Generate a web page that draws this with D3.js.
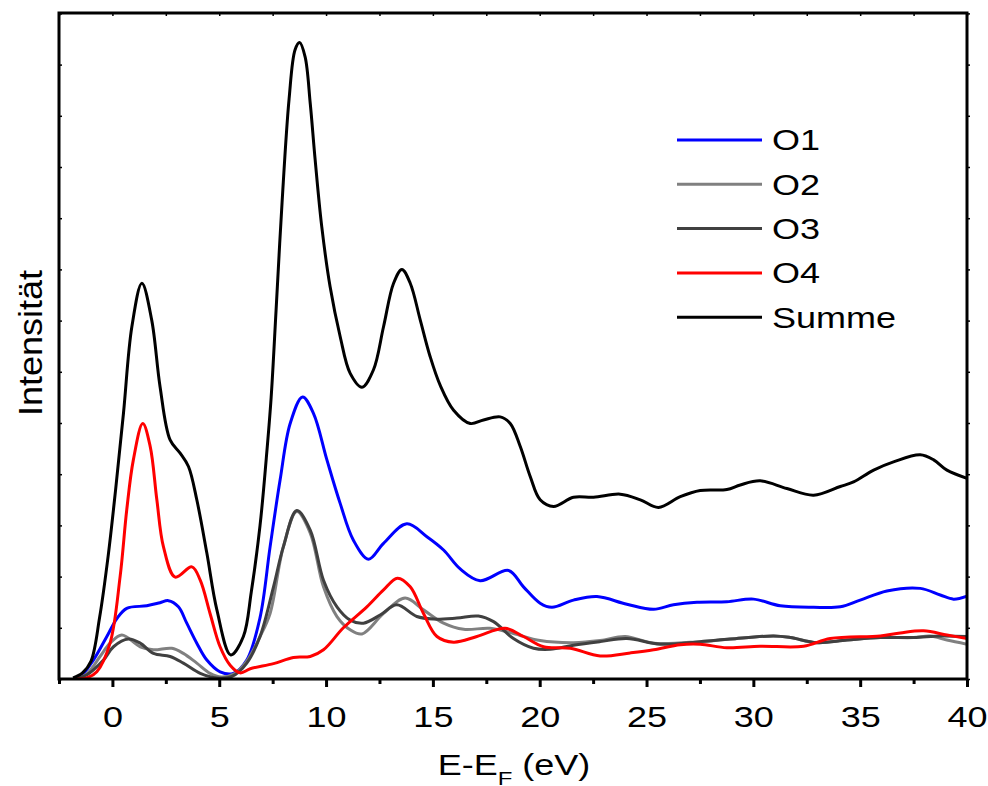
<!DOCTYPE html>
<html><head><meta charset="utf-8">
<script src="https://cdn.jsdelivr.net/npm/d3@7"></script>
<style>body{margin:0;background:#fff}svg{display:block}text{font-family:"Liberation Sans",Arial,sans-serif;fill:#000}</style>
</head><body><svg id="c" width="988" height="786"></svg>
<script>
// ---- data (energy in eV, intensity in arbitrary units) ----
const seriesNames = ["O1", "O2", "O3", "O4", "Summe"];
const seriesColors = ["#0000ff", "#808080", "#404040", "#ff0000", "#000000"];
const xTicks = [0, 5, 10, 15, 20, 25, 30, 35, 40];
const xMinorTicks = [-2.5, 2.5, 7.5, 12.5, 17.5, 22.5, 27.5, 32.5, 37.5];
const yTicks = [0,1,2,3,4,5,6,7,8,9,10,11,12,13];

const O1 = [[-1.84,0],[-1.51,0.04],[-0.89,0.37],[-0.26,0.83],[0.21,1.18],[0.67,1.38],[1.61,1.43],[2.23,1.49],[2.62,1.53],[3.09,1.41],[3.48,1.09],[3.95,0.70],[4.42,0.37],[5.04,0.14],[5.66,0.11],[6.29,0.37],[6.91,1.2],[7.38,2.58],[7.85,3.89],[8.32,4.99],[8.90,5.51],[9.41,5.19],[10.04,4.28],[10.66,3.43],[11.28,2.71],[11.99,2.34],[12.69,2.65],[13.78,3.03],[14.72,2.78],[15.5,2.52],[16.28,2.15],[17.21,1.92],[18.54,2.12],[19.24,1.80],[20.02,1.48],[20.57,1.40],[21.58,1.54],[22.68,1.61],[24.08,1.46],[25.33,1.36],[26.26,1.45],[27.36,1.50],[28.76,1.51],[30.01,1.56],[31.26,1.43],[32.82,1.40],[34.07,1.41],[35.0,1.54],[36.25,1.72],[37.81,1.77],[38.75,1.64],[39.37,1.56],[40,1.62]];
const O2 = [[-1.84,0],[-1.2,0.1],[-0.58,0.44],[-0.11,0.70],[0.44,0.86],[1.30,0.63],[1.92,0.57],[2.78,0.60],[3.32,0.50],[3.95,0.31],[4.57,0.11],[5.1,0.04],[5.7,0.1],[6.29,0.35],[6.91,0.83],[7.38,1.28],[8.0,2.58],[8.63,3.27],[9.26,2.85],[9.88,1.80],[10.51,1.22],[11.13,0.96],[11.68,0.88],[12.69,1.28],[13.70,1.58],[14.56,1.35],[15.5,1.09],[16.44,0.97],[17.68,0.99],[18.77,0.89],[20.02,0.75],[21.58,0.71],[22.83,0.75],[24.0,0.83],[25.33,0.70],[27.51,0.73],[28.92,0.78],[30.95,0.84],[31.73,0.81],[32.98,0.71],[34.38,0.76],[35.94,0.81],[37.5,0.81],[38.28,0.84],[39.06,0.76],[40,0.68]];
const O3 = [[-1.84,0],[-1.2,0.08],[-0.42,0.37],[0.05,0.63],[0.75,0.78],[1.30,0.70],[1.92,0.50],[2.70,0.44],[3.32,0.31],[4.11,0.11],[4.89,0.02],[5.6,0.05],[6.29,0.31],[6.91,0.83],[7.54,1.80],[8.0,2.58],[8.63,3.29],[9.26,2.91],[9.88,1.93],[10.51,1.41],[11.13,1.15],[11.75,1.09],[12.53,1.25],[13.31,1.45],[14.25,1.22],[15.03,1.17],[16.12,1.19],[17.13,1.23],[17.84,1.12],[18.77,0.79],[19.71,0.60],[20.49,0.58],[21.58,0.66],[22.83,0.73],[24.08,0.79],[25.64,0.68],[27.51,0.73],[28.92,0.78],[30.95,0.84],[31.73,0.81],[32.98,0.71],[34.38,0.76],[35.94,0.81],[37.5,0.81],[38.75,0.84],[40,0.83]];
const O4 = [[-1.84,0],[-1.2,0.02],[-0.73,0.14],[-0.11,0.70],[0.36,2.0],[0.67,3.30],[0.98,4.28],[1.42,4.99],[1.77,4.54],[2.08,3.5],[2.39,2.58],[2.94,1.99],[3.72,2.19],[4.11,1.93],[4.57,1.28],[5.04,0.63],[5.51,0.27],[5.98,0.12],[6.45,0.2],[7.54,0.3],[8.47,0.42],[9.26,0.44],[9.88,0.57],[10.81,1.0],[11.91,1.41],[12.69,1.74],[13.34,1.97],[13.94,1.80],[14.56,1.28],[15.19,0.83],[15.97,0.72],[17.06,0.83],[18.38,0.99],[19.24,0.83],[20.18,0.63],[21.43,0.60],[22.83,0.45],[24.24,0.51],[25.33,0.57],[26.58,0.67],[27.51,0.68],[28.76,0.61],[30.32,0.64],[32.35,0.64],[33.6,0.79],[35.94,0.84],[36.88,0.90],[37.97,0.94],[39.06,0.86],[40,0.79]];
const Summe = [[-1.84,0.02],[-1.4,0.12],[-1.0,0.35],[-0.6,1.2],[-0.2,2.4],[0.15,3.7],[0.52,5.2],[0.91,6.88],[1.38,7.73],[1.84,7.01],[2.23,5.71],[2.70,4.67],[3.17,4.41],[3.56,4.15],[3.95,3.5],[4.42,2.46],[4.89,1.35],[5.54,0.47],[6.13,0.83],[6.5,1.7],[6.91,3.0],[7.2,4.3],[7.43,5.5],[7.66,7.2],[7.94,9.3],[8.27,11.33],[8.55,12.29],[8.76,12.43],[9.02,12.15],[9.26,11.24],[9.49,10.14],[9.80,8.83],[10.19,7.66],[10.66,6.69],[11.13,5.97],[11.68,5.7],[12.22,6.04],[12.69,6.88],[13.16,7.73],[13.55,8.0],[13.94,7.73],[14.41,7.01],[14.87,6.30],[15.34,5.74],[15.97,5.25],[16.75,4.99],[17.37,5.06],[18.15,5.12],[18.62,4.99],[19.09,4.54],[19.56,3.95],[20.02,3.5],[20.65,3.37],[21.58,3.55],[22.52,3.55],[23.77,3.61],[24.71,3.5],[25.56,3.35],[26.58,3.56],[27.51,3.68],[28.76,3.70],[29.39,3.79],[30.32,3.87],[31.57,3.72],[32.82,3.59],[34.07,3.76],[34.69,3.85],[35.63,4.08],[36.56,4.24],[37.81,4.38],[38.44,4.28],[39.06,4.08],[40,3.92]];
const seriesData = [O1, O2, O3, O4, Summe];

// ---- layout ----
const svg = d3.select("#c");
const L = 59, R = 967, T = 13, B = 679;
const FS = 36, SY = 0.8; // font size and vertical squeeze of the reference text
const x = d3.scaleLinear().domain([-2.5, 40]).range([L, R]);
const y = d3.scaleLinear().domain([0, 13]).range([B, T + 0.4]);

svg.append("clipPath").attr("id", "pc").append("rect")
  .attr("x", L).attr("y", T).attr("width", R - L).attr("height", B - T);

const line = d3.line().x(d => x(d[0])).y(d => y(d[1])).curve(d3.curveCatmullRom.alpha(0.5));
const g = svg.append("g").attr("clip-path", "url(#pc)");
seriesData.forEach((s, i) => {
  g.append("path").datum(s).attr("d", line).attr("fill", "none")
    .attr("stroke", seriesColors[i]).attr("stroke-width", 3).attr("stroke-linejoin", "round");
});

// bottom axis
const xAxis = d3.axisBottom(x).tickValues(xTicks).tickSize(8).tickFormat(d3.format("d"));
const gx = svg.append("g").attr("transform", `translate(0,${B})`).call(xAxis);
gx.select(".domain").remove();
gx.selectAll(".tick line").attr("stroke", "#000").attr("stroke-width", 3);
gx.selectAll(".tick text").attr("font-size", FS).attr("y", 0).attr("dy", 0)
  .attr("transform", `translate(0,${727 - B}) scale(1,${SY})`);
const gxm = svg.append("g").attr("transform", `translate(0,${B})`)
  .call(d3.axisBottom(x).tickValues(xMinorTicks).tickSize(5).tickFormat(""));
gxm.select(".domain").remove();
gxm.selectAll(".tick line").attr("stroke", "#000").attr("stroke-width", 3);

// top axis tiny inner ticks
const gt = svg.append("g").attr("transform", `translate(0,${T})`)
  .call(d3.axisBottom(x).tickValues(xTicks.concat(xMinorTicks)).tickSize(3).tickFormat(""));
gt.select(".domain").remove();
gt.selectAll(".tick line").attr("stroke", "#000").attr("stroke-width", 1.5);

// left / right tiny ticks
[L, R].forEach(px => {
  const ga = svg.append("g").attr("transform", `translate(${px},0)`)
    .call(d3.axisRight(y).tickValues(yTicks).tickSize(3).tickFormat(""));
  ga.select(".domain").remove();
  ga.selectAll(".tick line").attr("stroke", "#000").attr("stroke-width", 1.5);
});

// frame
svg.append("rect").attr("x", L).attr("y", T).attr("width", R - L).attr("height", B - T)
  .attr("fill", "none").attr("stroke", "#000").attr("stroke-width", 3);

// axis titles
const xt = svg.append("text").attr("transform", `translate(514,775) scale(1,${SY})`)
  .attr("text-anchor", "middle").attr("font-size", FS);
xt.append("tspan").text("E-E");
xt.append("tspan").text("F").attr("font-size", 24).attr("dy", 12);
xt.append("tspan").text(" (eV)").attr("dy", -12);
svg.append("text").attr("transform", "translate(42,343) rotate(-90) scale(1,0.9)").attr("text-anchor", "middle")
  .attr("font-size", FS).text("Intensität");

// legend
const lg = svg.append("g");
seriesNames.forEach((n, i) => {
  const yy = 140 + i * 44.3;
  lg.append("line").attr("x1", 677).attr("x2", 762).attr("y1", yy).attr("y2", yy)
    .attr("stroke", seriesColors[i]).attr("stroke-width", 3);
  lg.append("text").attr("transform", `translate(772,${yy + 10.4}) scale(1,${SY})`)
    .attr("font-size", FS).text(n);
});
</script></body></html>
